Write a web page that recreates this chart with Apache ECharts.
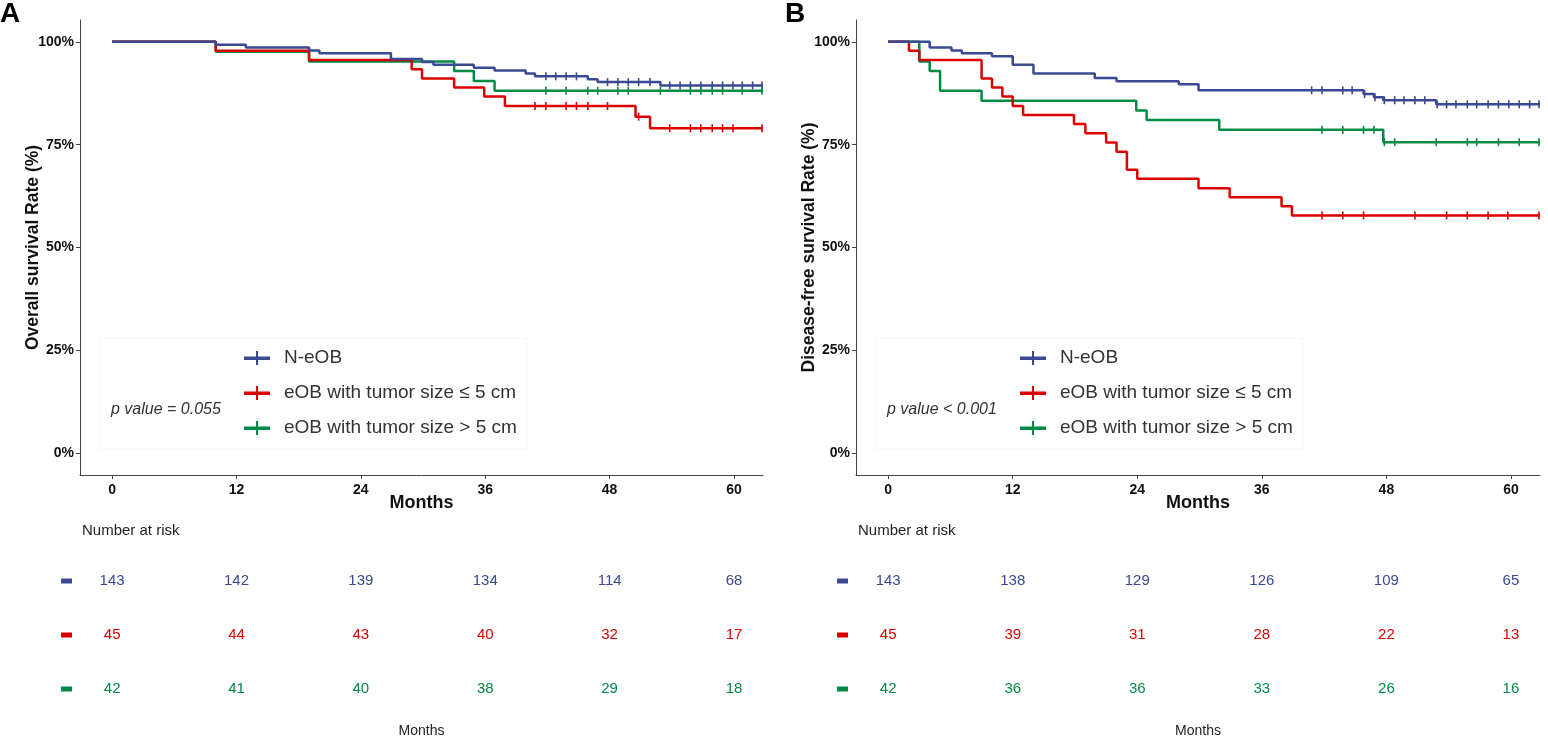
<!DOCTYPE html>
<html>
<head>
<meta charset="utf-8">
<script src="https://cdn.jsdelivr.net/npm/echarts@6/dist/echarts.min.js"></script>
<style>
  html, body { margin: 0; padding: 0; background: #fff; }
  #chart { width: 1548px; height: 742px; }
</style>
</head>
<body>
<div id="chart"></div>
<script>
// groups and colours
var groupNames = ['N-eOB', 'eOB with tumor size \u2264 5 cm', 'eOB with tumor size > 5 cm'];
var groupColors = ['#3B4992', '#DD0000', '#008B45'];

var monthTicks = [0, 12, 24, 36, 48, 60];
var pctTicks = [0, 25, 50, 75, 100];

// panel A - overall survival, [month, %]
var osBlue = [[0,100],[10,99.3],[12.9,98.6],[19,97.9],[20,97.2],[26.9,95.8],[29.9,95.1],[31,94.4],[34.9,93.7],[36.9,93.0],[39.9,92.3],[40.8,91.6],[45.9,90.9],[46.85,90.2],[52.9,89.4],[62.8,89.4]];
var osRed = [[0,100],[10,97.8],[19,95.6],[28.9,93.3],[29.9,91.1],[33,88.9],[35.9,86.7],[37.9,84.4],[50.5,81.8],[51.9,79.0],[62.8,79.0]];
var osGreen = [[0,100],[10,97.6],[19,95.2],[33,92.9],[34.9,90.5],[36.9,88.1],[62.8,88.1]];

// censor times
var osBlueCens = [41.85,42.8,43.8,44.8,47.8,48.8,49.8,50.8,51.9,53.8,54.8,55.8,56.8,57.9,58.9,59.9,60.8,61.8,62.7];
var osRedCens = [40.8,41.85,43.8,44.8,45.9,47.8,50.8,53.8,55.8,56.8,57.9,58.9,59.9,62.7];
var osGreenCens = [41.85,43.8,45.9,46.85,48.8,49.8,52.9,55.8,56.8,57.9,58.9,60.8,62.7];

// panel B - disease-free survival
var dfsBlue = [[0,100],[4,98.6],[6.1,97.9],[7.1,97.2],[10,96.5],[12,94.4],[14,92.3],[19.9,91.2],[22,90.4],[28,89.7],[29.9,88.2],[45.8,87.3],[46.8,86.5],[47.7,85.8],[52.8,84.8],[62.8,84.8]];
var dfsRed = [[0,100],[2,97.8],[3,95.6],[9,91.1],[10,88.9],[11,86.7],[12,84.4],[13,82.2],[17.9,80.0],[19,77.8],[21,75.5],[22,73.3],[23,68.9],[24,66.7],[29.9,64.4],[32.9,62.2],[37.9,60.0],[38.9,57.8],[62.8,57.8]];
var dfsGreen = [[0,100],[3,95.2],[4,92.9],[5,88.1],[9,85.7],[23.9,83.3],[24.9,81.0],[31.9,78.6],[47.7,75.6],[62.8,75.6]];

var dfsBlueCens = [40.8,41.8,43.8,44.7,45.9,46.9,47.8,48.8,49.7,50.75,51.7,52.9,53.8,54.7,55.8,56.7,57.8,58.8,59.8,60.8,61.8,62.7];
var dfsRedCens = [41.8,43.8,45.8,50.75,53.8,55.8,57.8,59.7,62.7];
var dfsGreenCens = [41.8,43.8,45.8,46.8,47.8,48.8,52.8,55.8,56.7,58.8,60.8,62.7];

// number at risk at 0,12,24,36,48,60
var osRiskBlue = [143,142,139,134,114,68];
var osRiskRed = [45,44,43,40,32,17];
var osRiskGreen = [42,41,40,38,29,18];
var dfsRiskBlue = [143,138,129,126,109,65];
var dfsRiskRed = [45,39,31,28,22,13];
var dfsRiskGreen = [42,36,36,33,26,16];

var panels = [
  { curves: [osBlue, osRed, osGreen], cens: [osBlueCens, osRedCens, osGreenCens], risk: [osRiskBlue, osRiskRed, osRiskGreen],
    ytitle: 'Overall survival Rate (%)', pval: 'p value = 0.055', letter: 'A', left: 80, width: 683, off: 0 },
  { curves: [dfsBlue, dfsRed, dfsGreen], cens: [dfsBlueCens, dfsRedCens, dfsGreenCens], risk: [dfsRiskBlue, dfsRiskRed, dfsRiskGreen],
    ytitle: 'Disease-free survival Rate (%)', pval: 'p value < 0.001', letter: 'B', left: 856, width: 684, off: 776 }
];

var FONT = '"Liberation Sans", Arial, Helvetica, sans-serif';
var xMin = -3.1, xMax = 62.8;

// survival value of a step curve at time t
function survAt(curve, t) {
  var v = curve[0][1];
  for (var i = 0; i < curve.length; i++) {
    if (curve[i][0] <= t) v = curve[i][1];
  }
  return v;
}

var grids = [], xAxes = [], yAxes = [], series = [], titles = [], legends = [];

panels.forEach(function(p, pi) {
  var gi = pi;          // survival grid
  var ri = pi + 2;      // risk table grid

  grids[gi] = { left: p.left, width: p.width, top: 20, height: 455 };
  grids[ri] = { left: p.left, width: p.width, top: 554, height: 162 };

  xAxes[gi] = {
    type: 'value', gridIndex: gi, min: xMin, max: xMax,
    name: 'Months', nameLocation: 'middle', nameGap: 19, nameMoveOverlap: false,
    nameTextStyle: { fontFamily: FONT, fontSize: 18, fontWeight: 'bold', color: '#111' },
    axisLine: { onZero: false, lineStyle: { color: '#444', width: 1 } },
    axisTick: { customValues: monthTicks, length: 4, lineStyle: { color: '#444' } },
    axisLabel: { customValues: monthTicks, margin: 8, fontFamily: FONT, fontSize: 14, fontWeight: 'bold', color: '#111' },
    splitLine: { show: false }
  };
  yAxes[gi] = {
    type: 'value', gridIndex: gi, min: -5.3, max: 105.3,
    name: p.ytitle, nameLocation: 'middle', nameGap: 38, nameMoveOverlap: false,
    nameTextStyle: { fontFamily: FONT, fontSize: 17.5, fontWeight: 'bold', color: '#111' },
    axisLine: { show: true, onZero: false, lineStyle: { color: '#444', width: 1 } },
    axisTick: { show: true, customValues: pctTicks, length: 4, lineStyle: { color: '#444' } },
    axisLabel: { customValues: pctTicks, margin: 6, formatter: '{value}%', fontFamily: FONT, fontSize: 14, fontWeight: 'bold', color: '#111' },
    splitLine: { show: false }
  };

  xAxes[ri] = {
    type: 'value', gridIndex: ri, min: xMin, max: xMax,
    name: 'Months', nameLocation: 'middle', nameGap: 8,
    nameTextStyle: { fontFamily: FONT, fontSize: 14, color: '#222' },
    axisLine: { show: false, onZero: false }, axisTick: { show: false }, axisLabel: { show: false }, splitLine: { show: false }
  };
  var rich = {};
  groupColors.forEach(function(c, i) { rich['d' + i] = { width: 11, height: 5, backgroundColor: c }; });
  yAxes[ri] = {
    type: 'category', gridIndex: ri, data: ['0', '1', '2'], inverse: true,
    axisLine: { show: false }, axisTick: { show: false }, splitLine: { show: false },
    axisLabel: { margin: 8, formatter: function(v, i) { return '{d' + i + '| }'; }, rich: rich }
  };

  p.curves.forEach(function(curve, i) {
    series.push({
      name: groupNames[i], type: 'line', step: 'end', xAxisIndex: gi, yAxisIndex: gi,
      data: curve, showSymbol: false, symbol: 'none', silent: true,
      color: groupColors[i],
      lineStyle: { color: groupColors[i], width: 2.5 }, z: 3 - i + 2
    });
    series.push({
      name: 'cens' + pi + i, type: 'scatter', xAxisIndex: gi, yAxisIndex: gi,
      data: p.cens[i].map(function(t) { return [t, survAt(curve, t)]; }),
      symbol: 'rect', symbolSize: [1.6, 8], silent: true,
      itemStyle: { color: groupColors[i], opacity: 1 }, z: 6
    });
    series.push({
      name: 'risk' + pi + i, type: 'scatter', xAxisIndex: ri, yAxisIndex: ri,
      data: p.risk[i].map(function(n, k) { return [monthTicks[k], i, n]; }),
      symbolSize: 0, silent: true,
      itemStyle: { color: groupColors[i], opacity: 1 },
      label: { show: true, position: 'inside', formatter: function(d) { return d.value[2]; },
               fontFamily: FONT, fontSize: 15, color: groupColors[i], opacity: 1 }
    });
  });

  legends.push({
    data: groupNames.map(function(n, i) { return { name: n, itemStyle: { color: groupColors[i] } }; }),
    orient: 'vertical', left: 100 + p.off, top: 338,
    padding: [10, 10, 11, 144],
    backgroundColor: '#fff', borderColor: '#f7f7f7', borderWidth: 1,
    icon: 'path://M0,5.5h26v3.5h-26z M12,0h2v14h-2z',
    itemWidth: 26, itemHeight: 14, itemGap: 15, selectedMode: false,
    textStyle: { fontFamily: FONT, fontSize: 19, color: '#333', lineHeight: 20, padding: [0, 0, 0, 9] }
  });

  titles.push({ text: p.letter, left: p.off + (pi ? 9 : 0), top: 0,
    textStyle: { fontFamily: FONT, fontSize: 28, fontWeight: 'bold', color: '#000' }, padding: 0 });
  titles.push({ text: p.pval, left: 111 + p.off, top: 402, padding: 0,
    textStyle: { fontFamily: FONT, fontSize: 16, fontStyle: 'italic', fontWeight: 'normal', color: '#333' } });
  titles.push({ text: 'Number at risk', left: p.left + 2, top: 523, padding: 0,
    textStyle: { fontFamily: FONT, fontSize: 15, fontWeight: 'normal', color: '#222' } });
});

var myChart = echarts.init(document.getElementById('chart'));
var option = {
  animation: false,
  backgroundColor: '#fff',
  title: titles,
  legend: legends,
  grid: grids,
  xAxis: xAxes,
  yAxis: yAxes,
  series: series
};
myChart.setOption(option);
</script>
</body>
</html>
